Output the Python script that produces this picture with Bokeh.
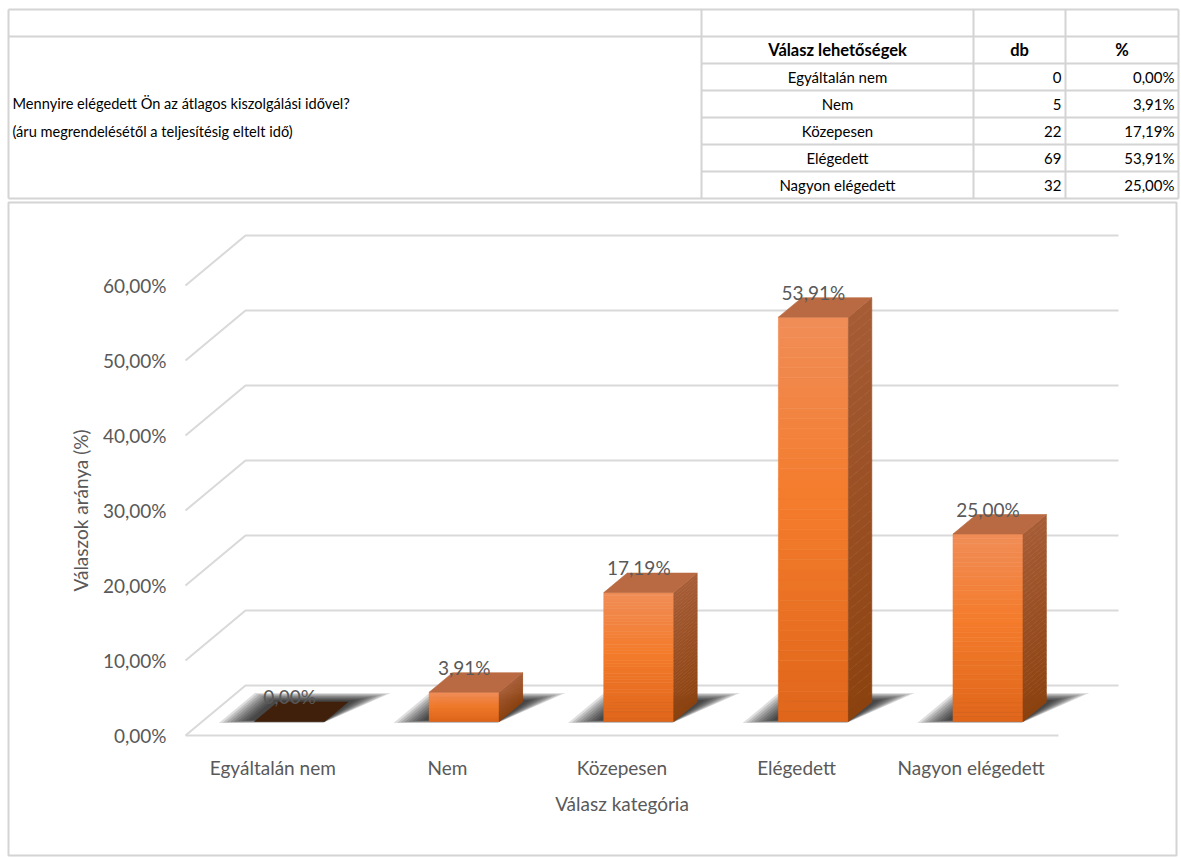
import numpy as np
from bokeh.plotting import figure
from bokeh.models import Range1d, LinearAxis, FixedTicker, CustomJSTickFormatter
from bokeh.core.properties import value
from bokeh.embed import file_html
from bokeh.resources import INLINE

# ---------------- data ----------------
categories = ["Egyáltalán nem", "Nem", "Közepesen", "Elégedett", "Nagyon elégedett"]
counts = [0, 5, 22, 69, 32]
percents = [0.00, 3.91, 17.19, 53.91, 25.00]
y_ticks = [0.0, 0.1, 0.2, 0.3, 0.4, 0.5, 0.6]
question = ["Mennyire elégedett Ön az átlagos kiszolgálási idővel?",
            "(áru megrendelésétől a teljesítésig eltelt idő)"]
table_header = ["Válasz lehetőségek", "db", "%"]
y_title = "Válaszok aránya (%)"
x_title = "Válasz kategória"


def fmt_pct(v):
    return f"{v:.2f}".replace(".", ",") + "%"


# ---------------- layout constants ----------------
W, H = 1181, 858
PX0, SX = 185.0, 174.6      # pixel of x=0, pixels per category
PY0, SY = 735.0, 750.0      # pixel of value 0, pixels per unit (100 %)
DX = 60.0 / SX              # depth offset (x, data units)
DY = 50.0 / SY              # depth offset (y, data units)
F0 = 0.28                   # depth of bar front face
BD = 0.39                   # bar depth
BW = 70.0 / SX              # bar width

FONT = "Lato"
TXT = "#595959"
GRID = "#d9d9d9"
CELL = "#d4d4d4"
TFS = "15px"

p = figure(width=W, height=H, output_backend="svg", toolbar_location=None,
           x_range=Range1d(-PX0 / SX, (W - PX0) / SX),
           y_range=Range1d(-(H - PY0) / SY, PY0 / SY),
           x_axis_type=None, y_axis_type=None, min_border=0)
p.outline_line_color = None
p.background_fill_color = "white"
p.border_fill_color = "white"
p.extra_x_ranges = {"tx": Range1d(0, W)}
p.extra_y_ranges = {"ty": Range1d(H, 0)}
T = dict(x_range_name="tx", y_range_name="ty")

# ---------------- spreadsheet table ----------------
TL, TR, TT, TB = 8, 1178, 9, 198
COLS = [701, 973, 1065]
ROW0, ROWH = 36, 27
n = len(categories)

hx0, hx1, hy = [], [], []
for y in [TT, ROW0, TB]:
    hx0.append(TL); hx1.append(TR); hy.append(y)
for k in range(1, n + 1):
    hx0.append(COLS[0]); hx1.append(TR); hy.append(ROW0 + k * ROWH)
p.segment(x0=hx0, x1=hx1, y0=hy, y1=hy, line_color=CELL, line_width=2, **T)
vx = [TL] + COLS + [TR]
p.segment(x0=vx, x1=vx, y0=[TT] * len(vx), y1=[TB] * len(vx), line_color=CELL, line_width=2, **T)

p.text(x=[12, 12], y=[103, 131], text=question, text_font=value(FONT), text_font_size="14.6px",
       text_color="black", text_baseline="middle", text_align="left", **T)

centers = [(COLS[0] + COLS[1]) / 2, (COLS[1] + COLS[2]) / 2, (COLS[2] + TR) / 2]
p.text(x=centers, y=[ROW0 + ROWH / 2] * 3, text=table_header, text_font=value(FONT),
       text_font_size="16.5px", text_font_style="bold", text_color="black",
       text_baseline="middle", text_align="center", **T)
row_y = [ROW0 + ROWH * (i + 1) + ROWH / 2 for i in range(n)]
p.text(x=[centers[0]] * n, y=row_y, text=categories, text_font=value(FONT), text_font_size=TFS,
       text_color="black", text_baseline="middle", text_align="center", **T)
p.text(x=[COLS[2] - 4] * n, y=row_y, text=[str(c) for c in counts], text_font=value(FONT),
       text_font_size=TFS, text_color="black", text_baseline="middle", text_align="right", **T)
p.text(x=[TR - 4] * n, y=row_y, text=[fmt_pct(v) for v in percents], text_font=value(FONT),
       text_font_size=TFS, text_color="black", text_baseline="middle", text_align="right", **T)

# chart area border
p.quad(left=[8], right=[1176], top=[202], bottom=[855], fill_color=None,
       line_color=CELL, line_width=2, **T)

# ---------------- 3D chart ----------------
def pt(x, d, v):
    return x + d * DX, v + d * DY

# gridlines (left diagonal + back wall)
gxs, gys = [], []
for v in y_ticks:
    gxs.append([0, DX, n + DX])
    gys.append([v, v + DY, v + DY])
gxs.append([0, n]); gys.append([0, 0])
p.multi_line(xs=gxs, ys=gys, line_color=GRID, line_width=2)


def hexrgb(h):
    h = h.lstrip("#")
    return np.array([int(h[i:i + 2], 16) for i in (0, 2, 4)], dtype=float)


def grad(stops, t):
    for (t0, c0), (t1, c1) in zip(stops[:-1], stops[1:]):
        if t <= t1:
            a = (t - t0) / (t1 - t0) if t1 > t0 else 0
            c = hexrgb(c0) * (1 - a) + hexrgb(c1) * a
            return "#%02x%02x%02x" % tuple(int(round(x)) for x in c)
    return stops[-1][1]


front_stops = [(0.0, "#E0661B"), (0.55, "#F47C2C"), (1.0, "#F08D58")]
side_stops = [(0.0, "#8C420F"), (1.0, "#A65C35")]
top_col = "#B96A42"
zero_col = "#40200A"

# soft shadows on the floor (stacked translucent layers)
NL = 9
sxs, sys_ = [], []
for i, pv in enumerate(percents):
    xl0 = i + 0.5 - BW / 2
    xr0 = i + 0.5 + BW / 2
    for k in range(NL):
        s = 1.0 - k / NL                       # 1 (outer) -> small (inner)
        a = (4 + 30 * s) / SX                  # left extension
        b = (2 + 30 * s) / SX                  # right (back) extension
        e1 = 0.02 + 0.16 * s                   # extension behind the bar
        e0 = 0.03 - 0.06 * s                   # front edge
        P = [pt(xl0 - a, F0 + e0, 0), pt(xr0, F0 + e0, 0),
             pt(xr0 + b, F0 + BD + e1, 0), pt(xl0 - a, F0 + BD + e1, 0)]
        sxs.append([q[0] for q in P]); sys_.append([q[1] for q in P])
p.patches(xs=sxs, ys=sys_, fill_color="black", fill_alpha=0.13, line_color=None)

# bars
NS = 40
fl, fr, fb, ft, fc = [], [], [], [], []
sdx, sdy, sdc = [], [], []
txs, tys, tcs = [], [], []
lab_x, lab_y, lab_t = [], [], []
for i, pv in enumerate(percents):
    val = pv / 100.0
    xl0 = i + 0.5 - BW / 2
    xr0 = i + 0.5 + BW / 2
    xl, base = pt(xl0, F0, 0)
    xr, _ = pt(xr0, F0, 0)
    top = base + val
    if val > 0:
        for k in range(NS):
            t0, t1 = k / NS, (k + 1) / NS
            col = grad(front_stops, (t0 + t1) / 2)
            fl.append(xl); fr.append(xr); fb.append(base + t0 * val); ft.append(base + t1 * val); fc.append(col)
            scol = grad(side_stops, (t0 + t1) / 2)
            P = [pt(xr0, F0, t0 * val), pt(xr0, F0, t1 * val), pt(xr0, F0 + BD, t1 * val), pt(xr0, F0 + BD, t0 * val)]
            sdx.append([q[0] for q in P]); sdy.append([q[1] for q in P]); sdc.append(scol)
    P = [pt(xl0, F0, val), pt(xr0, F0, val), pt(xr0, F0 + BD, val), pt(xl0, F0 + BD, val)]
    txs.append([q[0] for q in P]); tys.append([q[1] for q in P])
    tcs.append(top_col if val > 0 else zero_col)
    lab_x.append((xl + xr) / 2)
    lab_y.append(top + 25.0 / SY)
    lab_t.append(fmt_pct(pv))

p.quad(left=fl, right=fr, bottom=fb, top=ft, fill_color=fc, line_color=fc, line_width=0.6)
p.patches(xs=sdx, ys=sdy, fill_color=sdc, line_color=sdc, line_width=0.6)
p.patches(xs=txs, ys=tys, fill_color=tcs, line_color=tcs, line_width=0.6)

p.text(x=lab_x, y=lab_y, text=lab_t, text_font=value(FONT), text_font_size="19px",
       text_color=TXT, text_align="center", text_baseline="middle")

# axes
yaxis = LinearAxis(fixed_location=0, bounds=(0, max(y_ticks)),
                   ticker=FixedTicker(ticks=y_ticks),
                   formatter=CustomJSTickFormatter(code="return (tick*100).toFixed(2).replace('.', ',') + '%';"),
                   axis_label=y_title)
xaxis = LinearAxis(fixed_location=0, bounds=(0, n),
                   ticker=FixedTicker(ticks=[i + 0.5 for i in range(n)]),
                   formatter=CustomJSTickFormatter(args=dict(cats=categories),
                                                   code="return cats[Math.round(tick - 0.5)];"),
                   axis_label=x_title)
for ax in (yaxis, xaxis):
    ax.axis_line_color = None
    ax.major_tick_line_color = None
    ax.minor_tick_line_color = None
    ax.major_tick_in = 0
    ax.major_tick_out = 0
    ax.minor_tick_in = 0
    ax.minor_tick_out = 0
    ax.major_label_text_font = FONT
    ax.major_label_text_font_size = "19px"
    ax.major_label_text_color = TXT
    ax.axis_label_text_font = FONT
    ax.axis_label_text_font_size = "19px"
    ax.axis_label_text_font_style = "normal"
    ax.axis_label_text_color = TXT
yaxis.major_label_standoff = 19
yaxis.axis_label_standoff = 8
xaxis.major_label_standoff = 20
xaxis.axis_label_standoff = 10
p.add_layout(yaxis, "left")
p.add_layout(xaxis, "below")

open("out.html", "w").write(file_html(p, INLINE))
